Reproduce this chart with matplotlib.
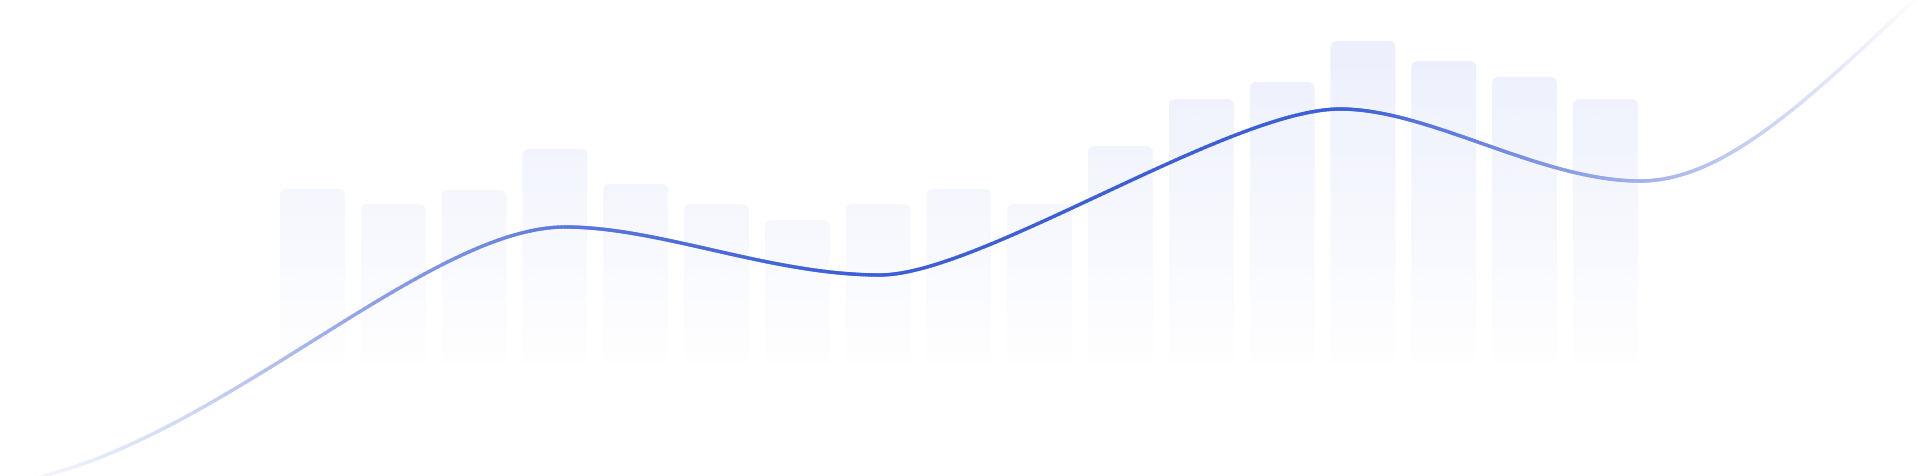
import numpy as np
import matplotlib.pyplot as plt
from matplotlib.patches import FancyBboxPatch
from matplotlib.path import Path
from matplotlib.collections import LineCollection
from matplotlib.colors import to_rgb

# bar heights (baseline = 0)
bar_values = [188, 173, 187, 228, 193, 173, 157, 173, 188, 173,
              231, 278, 295, 336, 316, 300, 278]

# the wave: anchor points and their bezier handles (canvas px, y down)
wave_nodes = [(0, 485), (565, 228), (880, 276), (1340, 110), (1640, 182), (1920, -5)]
wave_handles = [((200, 462), (420, 228)),
                ((660, 228), (770, 276)),
                ((980, 276), (1230, 110)),
                ((1430, 110), (1540, 182)),
                ((1720, 182), (1800, 110))]
# how strong the wave is along the width (0..1)
fade_pos = [0.0, 0.1, 0.2, 0.3, 0.45, 0.7, 1.0]
fade_amt = [0.0, 0.25, 0.6, 0.85, 1.0, 1.0, 0.0]

W, H = 1920, 477
pitch = 80.8      # px between bars
first = 312.5     # px centre of first bar
base = 378        # px of the baseline
bw = 65 / pitch   # bar width in index units

fig = plt.figure(figsize=(W / 100, H / 100), dpi=100)
fig.patch.set_facecolor('white')
ax = fig.add_axes([0, 0, 1, 1])
ax.axis('off')

# vertical gradient, shared by all bars (stronger higher up)
bar_rgb = to_rgb('#506ee6')
grad = np.zeros((256, 1, 4))
grad[..., :3] = bar_rgb
grad[:, 0, 3] = np.linspace(0, 0.12, 256)

for i, v in enumerate(bar_values):
    p = FancyBboxPatch((i - bw / 2, 0), bw, v,
                       boxstyle='round,pad=0,rounding_size=%f' % (7 / pitch),
                       mutation_aspect=pitch, facecolor='none', edgecolor='none')
    ax.add_patch(p)
    im = ax.imshow(grad, extent=[i - bw / 2, i + bw / 2, 0, base],
                   origin='lower', aspect='auto', interpolation='bilinear')
    im.set_clip_path(p)

ax.set_xlim(-first / pitch, (W - first) / pitch)
ax.set_ylim(-(H - base), base)

# wave line on its own canvas-like axes
ax2 = fig.add_axes([0, 0, 1, 1])
ax2.axis('off')
ax2.patch.set_alpha(0)
ax2.set_xlim(0, W)
ax2.set_ylim(H, 0)

verts = [wave_nodes[0]]
codes = [Path.MOVETO]
for (h1, h2), nd in zip(wave_handles, wave_nodes[1:]):
    verts += [h1, h2, nd]
    codes += [Path.CURVE4] * 3
path = Path(verts, codes)

pts = []
for bez, code in path.iter_bezier():
    pts.append(bez.point_at_t(np.linspace(0, 1, 120)))
pts = np.vstack(pts)

segs = np.stack([pts[:-1], pts[1:]], axis=1)
mid = (pts[:-1, 0] + pts[1:, 0]) / 2 / W
a = np.interp(mid, fade_pos, fade_amt)
blue = np.array(to_rgb('#3c5ed6'))
cols = (1 - a)[:, None] * np.ones(3) + a[:, None] * blue

lc = LineCollection(segs, colors=cols, linewidths=2.5, capstyle='round')
ax2.add_collection(lc)

fig.savefig('out.png', dpi=100, facecolor='white')
